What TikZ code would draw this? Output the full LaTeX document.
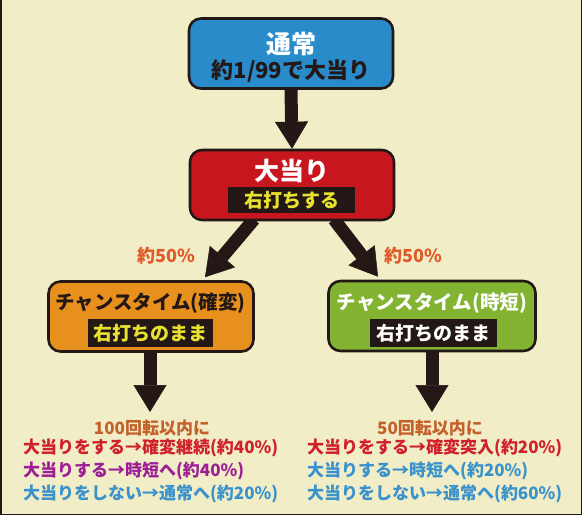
\documentclass[tikz,border=0pt]{standalone}
\usepackage{fontspec}
\setmainfont{Noto Sans CJK JP}
\usetikzlibrary{arrows.meta,backgrounds,calc}
\definecolor{bg}{HTML}{F1EDC6}
\definecolor{ink}{HTML}{231815}
\definecolor{blue1}{HTML}{2A8BCB}
\definecolor{red1}{HTML}{C8161E}
\definecolor{org}{HTML}{E8901E}
\definecolor{grn}{HTML}{82B431}
\definecolor{yel}{HTML}{E8E22E}
\definecolor{lbl}{HTML}{E05A28}
\definecolor{brn}{HTML}{C4602C}
\definecolor{txr}{HTML}{D0202A}
\definecolor{txp}{HTML}{9C1F96}
\definecolor{txb}{HTML}{3A92CC}
\newcommand\fsz[1]{\fontsize{#1}{#1}\selectfont\bfseries}
\tikzset{
  box/.style={draw=ink, line width=2.6pt, rounded corners=12pt, minimum width=204pt, minimum height=70pt, inner sep=0pt},
  tag/.style={fill=ink, minimum width=127pt, minimum height=26pt, inner sep=0pt, font=\fsz{19}},
  bigarrow/.style={draw=ink, line width=13pt, -{Triangle[length=27pt,width=33pt,line width=0.5pt]}},
  ttl/.style={inner sep=0pt},
  line/.style={anchor=west, inner sep=0pt, font=\fsz{17}},
  pct/.style={inner sep=0pt, text=lbl, font=\fsz{18}}
}
\begin{document}
\begin{tikzpicture}[x=1pt,y=-1pt]
\useasboundingbox (0,0) rectangle (582,515);
% boxes
\node[box, fill=blue1] (top) at (291,53.5) {};
\node[ttl, text=white, font=\fsz{25}] (topt) at (291,44) {通常};
\node[ttl, text=ink, font=\fsz{22}] (tops) at (291,71) {約1/99で大当り};

\node[box, fill=red1] (hit) at (292,185) {};
\node[ttl, text=white, font=\fsz{25}] (hitt) at (292,171) {大当り};
\node[tag, text=yel] (hits) at (291.5,200) {右打ちする};

\node[box, fill=org, minimum width=205pt] (kak) at (151,316.5) {};
\node[ttl, text=ink, font=\fsz{19.5}] (kakt) at (150.5,303) {チャンスタイム(確変)};
\node[tag, text=yel, minimum width=125pt, minimum height=28pt] (kaks) at (150.5,333) {右打ちのまま};

\node[box, fill=grn, minimum width=207pt] (jit) at (432,316) {};
\node[ttl, text=white, font=\fsz{19.5}] (jitt) at (432,303) {チャンスタイム(時短)};
\node[tag, text=white, minimum width=127pt, minimum height=28pt] (jits) at (433.5,333) {右打ちのまま};

\node[pct] (p1) at (166,256) {約50\%};
\node[pct] (p2) at (413,256) {約50\%};

\node[ttl, text=brn, font=\fsz{17}] (lh) at (152,428) {100回転以内に};
\node[line, text=txr] (l1) at (23,448) {大当りをする→確変継続(約40\%)};
\node[line, text=txp] (l2) at (23,470.5) {大当りする→時短へ(約40\%)};
\node[line, text=txb] (l3) at (23,494) {大当りをしない→通常へ(約20\%)};

\node[ttl, text=brn, font=\fsz{17}] (rh) at (430,428) {50回転以内に};
\node[line, text=txr] (r1) at (307,448) {大当りをする→確変突入(約20\%)};
\node[line, text=txb] (r2) at (307,470.5) {大当りする→時短へ(約20\%)};
\node[line, text=txb] (r3) at (307,494) {大当りをしない→通常へ(約60\%)};

\coordinate (kakend) at (150,412);
\coordinate (jitend) at (432,412);

\begin{pgfonlayer}{background}
\fill[bg] (0,0) rectangle (582,515);
\draw[ink, line width=1.5pt] (0.75,0) -- (0.75,514.25) -- (581.25,514.25) -- (581.25,0);
\draw[bigarrow] (top.south) -- (hit.north);
\draw[bigarrow] ($(hit.south)+(-38,-2)$) -- ($(kak.north)+(54,-3)$);
\draw[bigarrow] ($(hit.south)+(42,-2)$) -- ($(jit.north)+(-54,-3)$);
\draw[bigarrow] (kak.south -| kakend) -- (kakend);
\draw[bigarrow] (jit.south -| jitend) -- (jitend);
\end{pgfonlayer}
\end{tikzpicture}
\end{document}
